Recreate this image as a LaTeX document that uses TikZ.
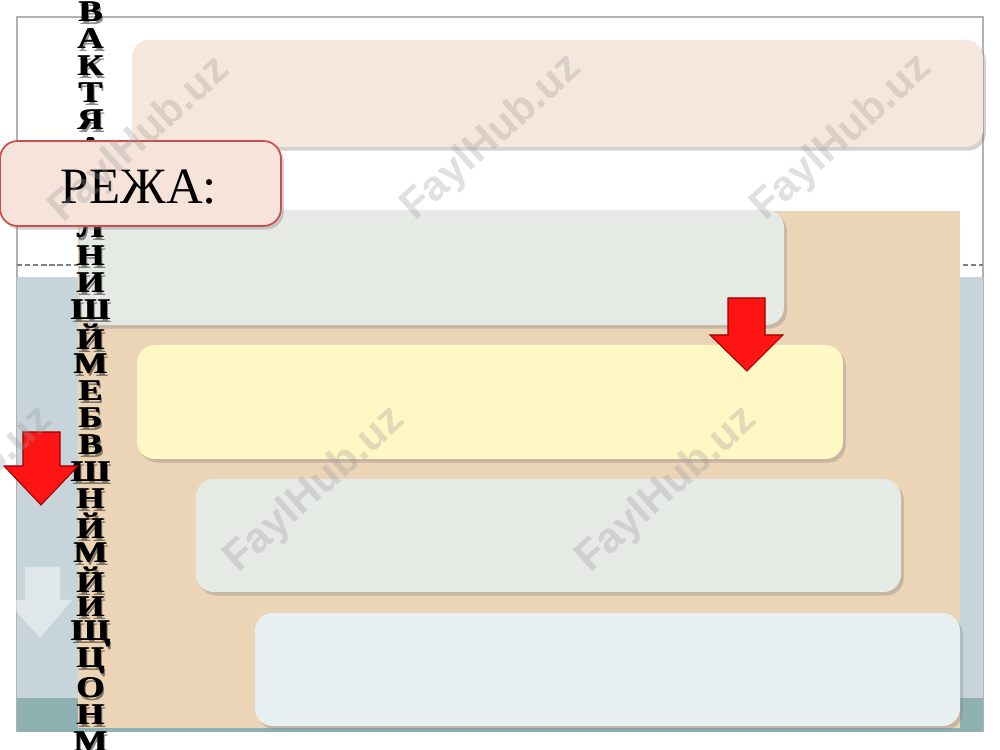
\documentclass[tikz,border=0pt]{standalone}
\usepackage{fontspec}
\setmainfont{Liberation Serif}
\newfontfamily\markfont{Liberation Sans}
\usetikzlibrary{shadows}

\definecolor{slideblue}{HTML}{C7D5DA}
\definecolor{slideteal}{HTML}{8DB0B1}
\definecolor{tanback}{HTML}{ECD4B6}
\definecolor{peachbox}{HTML}{F6E7DC}
\definecolor{planfill}{HTML}{F6E3DA}
\definecolor{sagebox}{HTML}{E6EAE4}
\definecolor{lemonbox}{HTML}{FFF7C4}
\definecolor{greybox}{HTML}{E5EAE5}
\definecolor{icebox}{HTML}{E7EFF0}
\definecolor{planred}{HTML}{C9504F}
\definecolor{arrowred}{HTML}{FF1414}

\tikzset{
  planbox/.style={rounded corners=5pt, drop shadow={shadow xshift=0.8pt, shadow yshift=-1pt, opacity=0.35}},
  downarrow/.style={fill=arrowred, draw=red!60!black, line width=0.3pt},
  letter/.style={font=\bfseries\fontsize{8.5}{8.5}\selectfont, inner sep=0pt, xscale=1.2},
  watermark/.style={font=\markfont\bfseries\fontsize{12}{12}\selectfont, text=gray!80, opacity=0.3, rotate=42}
}

\begin{document}
\begin{tikzpicture}[x=0.1mm, y=-0.1mm]
	\useasboundingbox (0,0) rectangle (1000,750);
	\clip (0,0) rectangle (1000,750);
	\fill [white] (0,0) rectangle (1000,750);
	% slide background
	\draw [gray!60, line width=0.4pt] (17,732) -- (17,17) -- (983,17) -- (983,732);
	\draw [gray, dash pattern=on 1.5pt off 0.8pt, line width=0.3pt] (17,265) -- (983,265);
	\fill [slideblue] (17,277) rectangle (983,698);
	\fill [slideteal] (17,698) rectangle (983,732);
	\fill [tanback] (78,211) rectangle (960,728);
	% plan boxes
	\fill [planbox, sagebox] (80,210) rectangle (784,325);
	\fill [planbox, lemonbox] (137,345) rectangle (843,459);
	\fill [planbox, greybox] (196,479) rectangle (901,592);
	\fill [planbox, icebox] (255,613) rectangle (960,726);
	\fill [planbox, peachbox] (132,40) rectangle (983,147);
	% letter column
	\foreach \ch [count=\i from 0] in {В,А,К,Т,Я,А,Н,И,Л,Н,И,Ш,Й,М,Е,Б,В,Ш,Н,Й,М,Й,И,Щ,Ц,О,Н,М} {
		\node [letter, text=black, opacity=0.45] (ls\i) at (92,15+27.04*\i) {\ch};
		\node [letter] (l\i) at (90,12+27.04*\i) {\ch};
		\node [letter] (lb\i) at (91,12+27.04*\i) {\ch};
	}
	% title box
	\filldraw [planbox, fill=planfill, draw=planred, line width=0.5pt] (0,141) rectangle (281,226);
	\node [font=\fontsize{14.5}{14.5}\selectfont, inner sep=0pt] (plan) at (139,187) {РЕЖА:};
	% arrows
	\filldraw [downarrow] (728,298) -- (765,298) -- (765,335) -- (783,335) -- (747,371) -- (710,335) -- (728,335) -- cycle;
	\filldraw [downarrow] (23,432) -- (60,432) -- (60,466) -- (78,466) -- (41,505) -- (4,466) -- (23,466) -- cycle;
	\fill [white, opacity=0.45] (25,567) -- (60,567) -- (60,600) -- (72,600) -- (40,638) -- (6,600) -- (25,600) -- cycle;
	% watermarks
	\foreach \wx/\wy [count=\j] in {140/140, 492/138, 842/138, -37/490, 315/490, 667/490} {
		\node [watermark] (mark\j) at (\wx,\wy) {FaylHub.uz};
	}
\end{tikzpicture}
\end{document}
